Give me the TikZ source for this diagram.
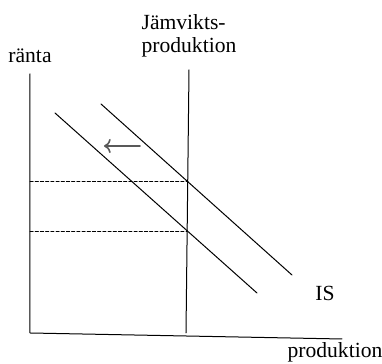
\documentclass[tikz,border=0pt]{standalone}
\usepackage{fontspec}
\setmainfont{Liberation Serif}
\usetikzlibrary{arrows.meta}

\begin{document}
\begin{tikzpicture}[x=0.5pt,y=0.5pt,>=To,line cap=round,line join=round]
  \tikzset{curve/.style={line width=0.5pt},
    level/.style={line width=0.45pt,dash pattern=on 1.6pt off 1pt},
    lbl/.style={font=\fontsize{10.8}{11.6}\selectfont,inner sep=0pt}}

  \path[use as bounding box] (0,0) rectangle (382,364);

  % axes
  \coordinate (origo) at (30,31);
  \draw[curve] (30,290) -- (origo) -- (342,25);
  \node[lbl,anchor=base] (ranta) at (30,301) {ränta};
  \node[lbl,anchor=base] (prod) at (335,6) {produktion};

  % jamviktsproduktion
  \draw[curve] (189,294) -- (186,31);
  \node[lbl,anchor=south,align=left] (jamv) at (189,306) {Jämvikts-\\produktion};

  % IS-kurvor
  \draw[curve] (101,260) -- (292,89);
  \draw[curve] (55,251) -- (257,71);
  \node[lbl] (is) at (325,71) {IS};

  \draw[level] (30,183) -- (188,183);
  \draw[level] (30,133) -- (187,133);

  \draw[->,line width=0.8pt,draw=black!65] (140,218) -- (104,218);
\end{tikzpicture}
\end{document}
